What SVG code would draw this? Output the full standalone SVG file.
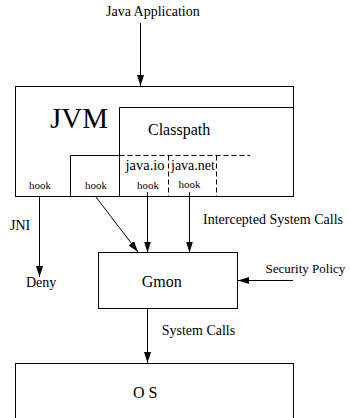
<svg xmlns="http://www.w3.org/2000/svg" width="350" height="418" viewBox="0 0 350 418">
<style>
text{font-family:"Liberation Serif","Times New Roman",serif;fill:#000}
.box{fill:none;stroke:#000;stroke-width:1}
.dash{fill:none;stroke:#000;stroke-width:1;stroke-dasharray:5,3}
.arr{fill:none;stroke:#000;stroke-width:1;marker-end:url(#ah)}
.lbl{font-size:14px}
.big{font-size:16px}
.hook{font-size:11px;text-anchor:middle}
</style>
<defs>
<marker id="ah" markerUnits="userSpaceOnUse" markerWidth="11" markerHeight="7" refX="11" refY="3.5" orient="auto">
<path d="M0,0 L11,3.5 L0,7 z" fill="#000"/>
</marker>
</defs>
<rect width="350" height="418" fill="#fff"/>
<g id="java-app"><text class="lbl" x="106" y="16">Java Application</text></g>
<g id="jvm">
<rect class="box" x="15.5" y="86.5" width="278" height="110"/>
<text x="50" y="128" font-size="29">JVM</text>
</g>
<g id="classpath">
<path class="box" d="M119.5,196.5 V107.5 H293.5"/>
<text class="big" x="148" y="135">Classpath</text>
</g>
<g id="native">
<path class="box" d="M70.5,196.5 V155.5 H119.5"/>
</g>
<g id="java-io">
<path class="dash" d="M119.5,155.5 H250"/>
<text x="125.5" y="170" font-size="14.5">java.io</text>
</g>
<g id="java-net">
<path class="dash" d="M168.5,155.5 V196.5 M216.5,155.5 V196.5"/>
<text x="171" y="170" font-size="14">java.net</text>
</g>
<g id="hooks">
<text class="hook" x="40" y="189">hook</text>
<text class="hook" x="96" y="189">hook</text>
<text class="hook" x="148" y="189">hook</text>
<text class="hook" x="189.5" y="188">hook</text>
</g>
<g id="deny"><text class="lbl" x="26" y="287">Deny</text></g>
<g id="gmon">
<rect class="box" x="98.5" y="252.5" width="139" height="56"/>
<text class="big" x="141.7" y="287">Gmon</text>
</g>
<g id="security-policy"><text x="265.5" y="273" font-size="13">Security Policy</text></g>
<g id="os">
<rect class="box" x="15.5" y="363.5" width="278" height="70"/>
<text class="big" x="133" y="398">O S</text>
</g>
<g id="connectors">
<line class="arr" x1="140.5" y1="23" x2="140.5" y2="86"/>
<line class="arr" x1="39.5" y1="197" x2="39.5" y2="277"/>
<line class="arr" x1="96" y1="197" x2="138" y2="252"/>
<line class="arr" x1="147.5" y1="192" x2="147.5" y2="252.5"/>
<line class="arr" x1="189.5" y1="192" x2="189.5" y2="252.5"/>
<line class="arr" x1="293" y1="280.5" x2="238" y2="280.5"/>
<line class="arr" x1="147.5" y1="308.5" x2="147.5" y2="363"/>
<text class="lbl" x="10" y="230">JNI</text>
<text class="lbl" x="203" y="224">Intercepted System Calls</text>
<text class="lbl" x="161.7" y="335">System Calls</text>
</g>
</svg>
